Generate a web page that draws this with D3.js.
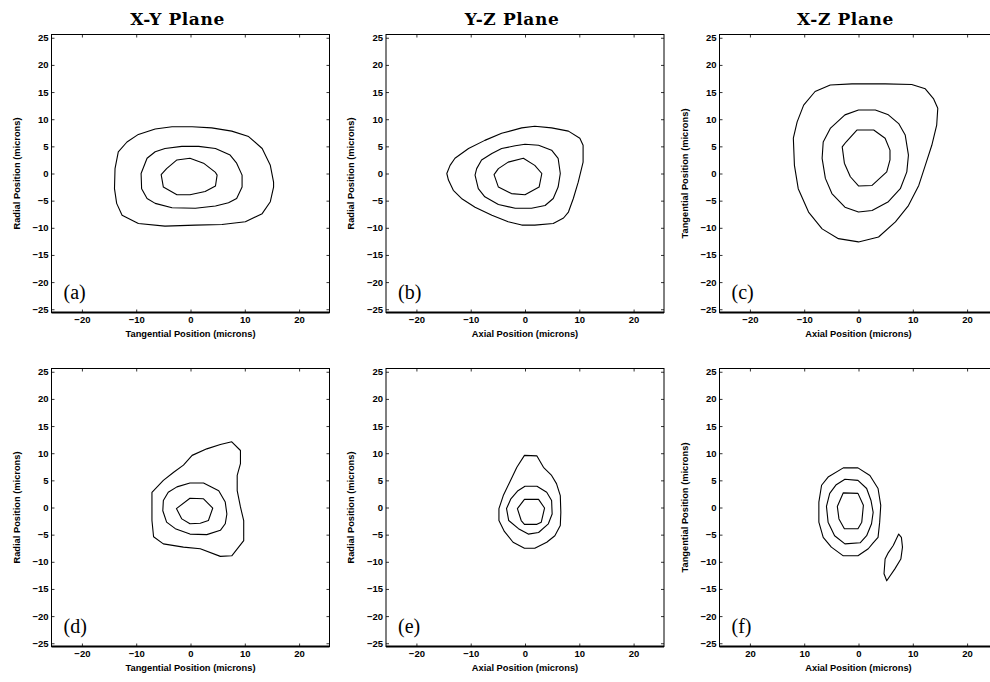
<!DOCTYPE html>
<html>
<head>
<meta charset="utf-8">
<script src="https://cdn.jsdelivr.net/npm/d3@7.9.0/dist/d3.min.js"></script>
<style>
  body { margin: 0; background: #fff; }
  svg { display: block; }
  .tick text { font-family: "Liberation Sans", Arial, sans-serif; font-weight: bold; font-size: 9.5px; fill: #000; }
  .tick line { stroke: #000; stroke-width: 0.8; }
  .axis-label { font-family: "Liberation Sans", Arial, sans-serif; font-weight: bold; font-size: 9.3px; }
  .plane-title { font-family: "DejaVu Serif", serif; font-weight: bold; font-size: 17px; letter-spacing: 0.6px; }
  .panel-tag { font-family: "Liberation Serif", "Times New Roman", serif; font-size: 20px; }
</style>
</head>
<body>
<div id="chart"></div>
<script>
// column titles, panel tags and axis labels
const planeTitles = ['X-Y Plane', 'Y-Z Plane', 'X-Z Plane'];
const panelTags = ['(a)', '(b)', '(c)', '(d)', '(e)', '(f)'];
const xLabels = ['Tangential Position (microns)', 'Axial Position (microns)', 'Axial Position (microns)'];
const yLabels = ['Radial Position (microns)', 'Radial Position (microns)', 'Tangential Position (microns)'];
const xTicks = [-20, -10, 0, 10, 20];
const yTicks = [-25, -20, -15, -10, -5, 0, 5, 10, 15, 20, 25];
const axisLimits = [-25.6, 25.6];

// contour lines, [x, y] in microns
const contourA1 = [[-11.7,5.8],[-9.6,7.2],[-6.5,8.2],[-3.4,8.6],[0.3,8.6],[3.9,8.4],[7.6,7.8],[10.7,6.8],[13.2,4.6],[14.7,1.5],[15.3,-1.6],[15.3,-2.5],[14.7,-5.2],[13.2,-7.4],[10.1,-8.9],[5.8,-9.4],[0.9,-9.5],[-4.7,-9.7],[-9.6,-9.2],[-12.6,-7.7],[-13.6,-5.5],[-14.0,-2.8],[-13.9,0.9],[-13.3,4.0]];
const contourA2 = [[-8.0,2.8],[-6.5,4.0],[-4.7,4.6],[-1.6,5.0],[1.5,5.0],[4.6,4.6],[7.3,3.4],[8.5,1.9],[9.5,-0.3],[9.5,-2.5],[8.5,-4.6],[7.0,-5.4],[4.6,-6.0],[0.9,-6.4],[-3.4,-6.3],[-6.5,-5.5],[-8.0,-4.6],[-9.0,-2.8],[-9.1,0]];
const contourA3 = [[-2.5,2.5],[-0.1,2.8],[2.4,1.9],[4.6,0.2],[4.9,-0.3],[4.6,-2.3],[2.7,-3.3],[-0.1,-3.9],[-2.5,-3.9],[-5.0,-2.5],[-5.4,-0.2],[-4.4,0.9]];

const contourB1 = [[-14.4,0],[-13.8,1.5],[-12.9,2.8],[-10.4,4.6],[-7.4,6.1],[-4.3,7.4],[-0.6,8.4],[1.8,8.7],[4.9,8.4],[8.0,7.8],[10.1,6.5],[10.7,5.2],[10.7,2.1],[9.8,-1.6],[8.9,-4.6],[8.0,-7.1],[7.1,-8.2],[5.2,-9.2],[1.8,-9.5],[-0.6,-9.5],[-3.1,-8.9],[-6.1,-7.7],[-9.2,-6.2],[-11.7,-4.6],[-13.2,-3.1],[-14.1,-1.2]];
const contourB2 = [[-9.2,-0.3],[-8.9,0.9],[-8.0,2.5],[-6.1,3.7],[-4.3,4.6],[-1.8,5.1],[0,5.4],[2.5,5.2],[4.9,4.3],[6.1,2.8],[6.5,0],[6.1,-2.5],[5.2,-4.6],[3.7,-5.9],[1.2,-6.4],[-1.8,-6.4],[-4.9,-5.7],[-7.4,-4.3],[-8.6,-2.8]];
const contourB3 = [[-5.7,-0.2],[-4.9,0.9],[-3.1,2.1],[-0.3,2.8],[1.8,1.5],[3.1,0],[2.6,-2.5],[0,-3.9],[-2.5,-3.7],[-4.9,-2.5]];

const contourC1 = [[-5.2,16.3],[-1.2,16.5],[4.9,16.5],[9.8,16.4],[12.3,15.6],[13.8,13.8],[14.6,12.0],[14.4,8.9],[13.5,5.2],[12.3,1.5],[11.1,-2.2],[9.2,-5.9],[6.8,-8.9],[3.7,-11.7],[0,-12.6],[-3.7,-12.0],[-6.7,-10.2],[-9.2,-7.1],[-11.1,-2.8],[-11.8,1.5],[-12.0,6.5],[-11.3,9.5],[-10.1,12.6],[-8.0,15.1]];
const contourC2 = [[-2.5,10.8],[0,11.7],[3.1,11.7],[5.5,10.8],[7.4,9.2],[8.6,7.1],[9.2,3.4],[8.9,0.3],[7.7,-2.8],[5.5,-5.2],[2.5,-6.8],[0,-7.1],[-2.5,-6.2],[-4.9,-3.7],[-6.1,-0.9],[-6.7,2.8],[-6.5,5.8],[-5.2,8.3]];
const contourC3 = [[-0.3,8.0],[2.8,8.0],[4.9,6.5],[5.8,4.3],[5.8,2.5],[5.2,0.3],[2.5,-2.2],[0,-2.3],[-1.5,-0.6],[-2.6,1.9],[-3.0,4.9],[-2.3,5.8]];

const contourD1 = [[-7.1,2.8],[-5.0,5.0],[-3.1,6.5],[-1.3,7.8],[0.3,9.6],[3.0,10.8],[5.5,11.6],[7.6,12.1],[9.2,10.5],[9.2,8.1],[8.6,5.9],[8.6,3.1],[9.2,0.1],[9.8,-2.4],[9.8,-6.1],[7.6,-8.9],[5.5,-9.0],[1.8,-7.6],[-1.3,-7.3],[-5.0,-6.7],[-6.8,-5.4],[-7.1,-2.4]];
const contourD2 = [[-5.0,1.3],[-4.1,2.8],[-2.5,3.8],[-0.1,4.5],[2.4,4.5],[5.2,3.1],[6.4,1.0],[6.7,-1.2],[6.4,-3.0],[5.5,-4.2],[3.0,-5.0],[-0.1,-4.9],[-2.8,-3.9],[-4.4,-2.7],[-5.1,-0.6]];
const contourD3 = [[-2.6,-0.2],[-0.1,1.7],[2.4,1.6],[4.1,-0.1],[3.3,-2.4],[1.8,-2.9],[-0.1,-3.0],[-1.6,-2.1]];

const contourE1 = [[-0.1,9.6],[2.2,9.5],[3.4,7.4],[4.9,5.9],[5.8,4.4],[6.5,2.2],[6.6,-0.9],[6.5,-3.3],[5.5,-5.2],[4.0,-6.4],[1.8,-7.5],[-0.1,-7.5],[-2.2,-6.4],[-3.8,-4.4],[-4.8,-2.4],[-4.8,-0.2],[-4.0,2.2],[-2.8,4.7],[-1.5,7.4]];
const contourE2 = [[0,3.9],[2.2,3.9],[4.0,2.8],[4.9,1.3],[5.0,-1.2],[4.3,-3.0],[2.5,-4.6],[0.6,-4.9],[-1.2,-3.9],[-3.0,-2.4],[-3.4,-0.2],[-2.6,1.6],[-1.3,3.1]];
const contourE3 = [[-0.1,1.5],[2.5,1.5],[3.6,-0.1],[3.0,-2.7],[2.2,-3.1],[-0.1,-3.1],[-0.7,-2.4],[-1.4,-0.2]];

const contourF1 = [[-2.8,7.3],[-0.1,7.3],[2.1,5.9],[3.6,3.5],[4.1,0.4],[3.9,-2.7],[3.6,-5.5],[2.7,-6.5],[1.8,-7.6],[-0.1,-8.9],[-2.8,-8.9],[-5.0,-7.3],[-6.5,-5.5],[-7.3,-2.7],[-7.3,1.0],[-6.8,4.1],[-5.6,5.6]];
const contourF2 = [[-2.5,5.2],[-0.1,5.0],[1.5,3.5],[2.3,1.3],[2.7,-0.9],[2.4,-3.0],[1.5,-5.2],[0.3,-6.5],[-2.5,-6.7],[-4.4,-5.2],[-5.6,-2.7],[-5.9,0.2],[-5.3,2.6],[-4.1,4.2]];
const contourF3 = [[-2.8,2.7],[-0.1,2.6],[0.9,0.4],[0.6,-2.7],[-0.1,-3.9],[-2.6,-3.9],[-3.6,-2.1],[-3.9,0.2]];
const contourF4 = [[7.4,-4.9],[7.9,-5.5],[8.1,-7.3],[7.8,-9.5],[6.7,-11.3],[5.2,-13.5],[4.7,-12.2],[4.9,-9.5],[5.5,-8.3],[6.4,-7.0]];

const panelContours = [
  [contourA1, contourA2, contourA3],
  [contourB1, contourB2, contourB3],
  [contourC1, contourC2, contourC3],
  [contourD1, contourD2, contourD3],
  [contourE1, contourE2, contourE3],
  [contourF1, contourF2, contourF3, contourF4],
];

const width = 990;
const height = 682;
const boxSize = 278;
const colLeft = [51.5, 386, 719.5];
const rowTop = [34.5, 368.5];

const svg = d3.select('#chart')
  .append('svg')
  .attr('width', width)
  .attr('height', height);

const x = d3.scaleLinear().domain(axisLimits).range([0, boxSize]);
const y = d3.scaleLinear().domain(axisLimits).range([boxSize, 0]);

const line = d3.line()
  .x((d) => x(d[0]))
  .y((d) => y(d[1]))
  .curve(d3.curveLinearClosed);

// titles over the top row
planeTitles.forEach((t, i) => {
  svg.append('text')
    .attr('class', 'plane-title')
    .attr('x', colLeft[i] + boxSize / 2 - 13)
    .attr('y', 25)
    .attr('text-anchor', 'middle')
    .text(t);
});

for (let p = 0; p < 6; p++) {
  const col = p % 3;
  const row = Math.floor(p / 3);
  const g = svg.append('g')
    .attr('transform', `translate(${colLeft[col]},${rowTop[row]})`);

  // panel (f) labels the axial axis by distance from zero
  const fmt = p === 5 ? (d) => String(Math.abs(d)) : (d) => String(d).replace('-', '\u2212');

  g.append('g')
    .attr('transform', `translate(0,${boxSize})`)
    .call(d3.axisBottom(x).tickValues(xTicks).tickSizeInner(-3).tickSizeOuter(0).tickPadding(4).tickFormat(fmt))
    .call((a) => a.select('.domain').remove());
  g.append('g')
    .call(d3.axisTop(x).tickValues(xTicks).tickSizeInner(-3).tickSizeOuter(0).tickFormat(''))
    .call((a) => a.select('.domain').remove());
  g.append('g')
    .call(d3.axisLeft(y).tickValues(yTicks).tickSizeInner(-3).tickSizeOuter(0).tickPadding(3).tickFormat((d) => String(d).replace('-', '\u2212')))
    .call((a) => a.select('.domain').remove());
  g.append('g')
    .attr('transform', `translate(${boxSize},0)`)
    .call(d3.axisRight(y).tickValues(yTicks).tickSizeInner(-3).tickSizeOuter(0).tickFormat(''))
    .call((a) => a.select('.domain').remove());

  // axes box, heavier along the bottom
  g.append('rect')
    .attr('width', boxSize)
    .attr('height', boxSize)
    .attr('fill', 'none')
    .attr('stroke', '#000')
    .attr('stroke-width', 1);
  g.append('line')
    .attr('x1', 0).attr('x2', boxSize)
    .attr('y1', boxSize).attr('y2', boxSize)
    .attr('stroke', '#000')
    .attr('stroke-width', 1.8);

  g.selectAll('path.contour')
    .data(panelContours[p])
    .join('path')
    .attr('class', 'contour')
    .attr('d', line)
    .attr('fill', 'none')
    .attr('stroke', '#000')
    .attr('stroke-width', 1.1)
    .attr('stroke-linejoin', 'round');

  g.append('text')
    .attr('class', 'panel-tag')
    .attr('x', 12)
    .attr('y', boxSize - 14)
    .text(panelTags[p]);

  g.append('text')
    .attr('class', 'axis-label')
    .attr('x', boxSize / 2)
    .attr('y', boxSize + 24)
    .attr('text-anchor', 'middle')
    .text(xLabels[col]);

  g.append('text')
    .attr('class', 'axis-label')
    .attr('transform', `translate(-32,${boxSize / 2}) rotate(-90)`)
    .attr('text-anchor', 'middle')
    .text(yLabels[col]);
}
</script>
</body>
</html>
